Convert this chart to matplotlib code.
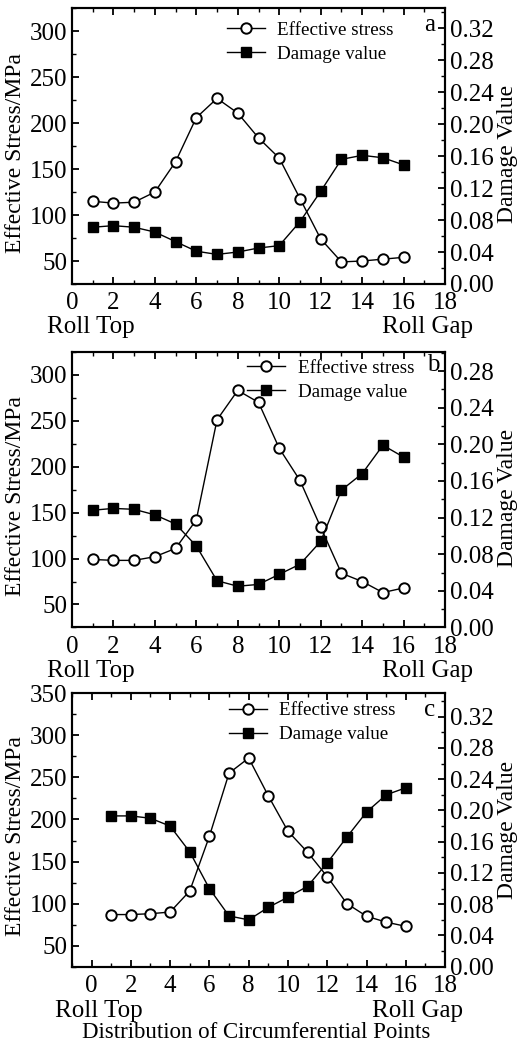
import matplotlib
matplotlib.use("Agg")
import matplotlib.pyplot as plt
from matplotlib.ticker import MultipleLocator

plt.rcParams['font.family'] = ['Liberation Serif', 'DejaVu Serif']

points = list(range(1, 17))

# panel a
stress_a = [115, 113, 114, 125, 158, 206, 227, 211, 184, 162, 118, 74, 49, 50, 52, 54]
damage_a = [0.071, 0.073, 0.071, 0.065, 0.053, 0.041, 0.037, 0.040, 0.045, 0.048,
            0.078, 0.116, 0.156, 0.161, 0.158, 0.149]
# panel b
stress_b = [99, 98, 98, 102, 111, 142, 251, 283, 270, 220, 185, 134, 84, 75, 63, 68]
damage_b = [0.128, 0.130, 0.129, 0.123, 0.113, 0.089, 0.051, 0.045, 0.047, 0.058,
            0.069, 0.094, 0.150, 0.168, 0.199, 0.186]
# panel c
stress_c = [87, 87, 88, 90, 115, 180, 255, 273, 228, 186, 161, 132, 100, 85, 78, 73]
damage_c = [0.193, 0.193, 0.190, 0.180, 0.147, 0.100, 0.065, 0.060, 0.076, 0.089,
            0.103, 0.133, 0.166, 0.198, 0.220, 0.229]

# tag, data, limits, axes box (top, bottom), legend anchor, tag pos, right label y
panels = [
    ("a", stress_a, damage_a, (0, 18), (25, 325), (0, 0.345), (0.992, 0.728),
     (0.405, 0.967), (0.973, 0.938), 0.47),
    ("b", stress_b, damage_b, (0, 18), (25, 325), (0, 0.301), (0.663, 0.399),
     (0.46, 0.985), (0.985, 0.953), 0.47),
    ("c", stress_c, damage_c, (-1, 18), (25, 350), (0, 0.35), (0.336, 0.074),
     (0.41, 0.982), (0.973, 0.938), 0.50),
]

fig = plt.figure(figsize=(5.17, 10.44), dpi=100)
left, right = 0.139, 0.861

for tag, stress, damage, xl, yl, yr, (top, bottom), leg_xy, tag_xy, rly in panels:
    ax = fig.add_axes([left, bottom, right - left, top - bottom])
    ax2 = ax.twinx()

    l1, = ax.plot(points, stress, '-', color='black', lw=1.0, marker='o',
                  markersize=7.5, markerfacecolor='white', markeredgecolor='black',
                  markeredgewidth=1.4, label='Effective stress')
    l2, = ax2.plot(points, damage, '-', color='black', lw=1.0, marker='s',
                   markersize=7, markerfacecolor='black', markeredgecolor='black',
                   label='Damage value')

    ax.set_xlim(*xl)
    ax.set_ylim(*yl)
    ax2.set_ylim(*yr)
    ax.xaxis.set_major_locator(MultipleLocator(2))
    ax.xaxis.set_minor_locator(MultipleLocator(1))
    ax.yaxis.set_major_locator(MultipleLocator(50))
    ax.yaxis.set_minor_locator(MultipleLocator(25))
    ax2.yaxis.set_major_locator(MultipleLocator(0.04))
    ax2.yaxis.set_minor_locator(MultipleLocator(0.02))
    ax2.yaxis.set_major_formatter(plt.FormatStrFormatter('%.2f'))

    ax.tick_params(axis='x', which='both', direction='in', top=True, labelsize=18, pad=6)
    ax.tick_params(axis='y', which='both', direction='in', right=False, labelsize=18, pad=3.5)
    ax2.tick_params(axis='y', which='both', direction='in', labelsize=18, pad=3.5)
    for a in (ax, ax2):
        a.tick_params(which='major', length=5, width=1.3)
        a.tick_params(which='minor', length=3, width=1.0)
        for s in a.spines.values():
            s.set_linewidth(1.5)

    ax.set_ylabel('Effective Stress/MPa', fontsize=17)
    ax.yaxis.set_label_coords(-0.122, 0.476)
    ax2.set_ylabel('Damage Value', fontsize=17)
    ax2.yaxis.set_label_coords(1.139, rly)

    ax.legend([l1, l2], ['Effective stress', 'Damage value'], loc='upper left',
              bbox_to_anchor=leg_xy, frameon=False, fontsize=13.7,
              handlelength=2.0, handletextpad=0.65, borderaxespad=0.0,
              borderpad=0.2, labelspacing=0.35)
    ax.text(tag_xy[0], tag_xy[1], tag, transform=ax.transAxes, ha='right', va='center',
            fontsize=18)

    xs = -0.067 if tag != 'c' else -0.045
    xe = 1.075 if tag != 'c' else 1.048
    ty = -0.157 if tag != 'c' else -0.16
    ax.text(xs, ty, 'Roll Top', transform=ax.transAxes, ha='left', va='center', fontsize=18)
    ax.text(xe, ty, 'Roll Gap', transform=ax.transAxes, ha='right', va='center', fontsize=18)

    if tag == 'c':
        ax.text(0.495, -0.24, 'Distribution of Circumferential Points', transform=ax.transAxes,
                ha='center', va='center', fontsize=16.5)

fig.savefig('out.png', dpi=100)
